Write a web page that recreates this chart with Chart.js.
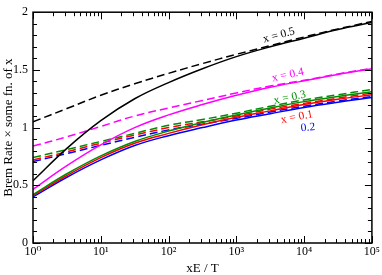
<!doctype html>
<html lang="en">
<head>
  <meta charset="utf-8">
  <title>brem rate</title>
  <style>
    body { margin: 0; background: #fff; }
    #chart { display: block; }
  </style>
</head>
<body>
  <canvas id="chart" width="382" height="275"></canvas>

  <script src="https://cdn.jsdelivr.net/npm/chart.js@4.4.1/dist/chart.umd.min.js"></script>
  <script>
  // xE / T sample points, half decades
  const xE = [1, 3.162, 10, 31.62, 100, 316.2, 1000, 3162, 10000, 31623, 100000];

  // x = 0.1
  const solid01  = [0.41, 0.585, 0.74, 0.865, 0.95, 1.025, 1.09, 1.145, 1.20, 1.245, 1.285];
  const dashed01 = [0.72, 0.79, 0.865, 0.935, 1.00, 1.05, 1.10, 1.16, 1.21, 1.255, 1.30];
  // x = 0.2
  const solid02  = [0.40, 0.57, 0.72, 0.845, 0.93, 1.00, 1.065, 1.12, 1.175, 1.22, 1.26];
  const dashed02 = [0.705, 0.775, 0.846, 0.915, 0.98, 1.03, 1.08, 1.135, 1.185, 1.23, 1.27];
  // x = 0.3
  const solid03  = [0.42, 0.60, 0.755, 0.88, 0.97, 1.045, 1.11, 1.17, 1.225, 1.27, 1.31];
  const dashed03 = [0.74, 0.81, 0.88, 0.95, 1.02, 1.07, 1.125, 1.185, 1.24, 1.285, 1.33];
  // x = 0.4
  const solid04  = [0.465, 0.67, 0.85, 1.00, 1.11, 1.20, 1.28, 1.35, 1.405, 1.46, 1.51];
  const dashed04 = [0.84, 0.92, 1.01, 1.10, 1.17, 1.235, 1.30, 1.36, 1.41, 1.465, 1.515];
  // x = 0.5
  const solid05  = [0.54, 0.82, 1.06, 1.25, 1.39, 1.51, 1.615, 1.70, 1.775, 1.85, 1.91];
  const dashed05 = [1.05, 1.165, 1.28, 1.38, 1.47, 1.555, 1.635, 1.71, 1.785, 1.855, 1.92];

  const yTicks = [0, 0.5, 1, 1.5, 2];
  const xTicks = [1, 10, 100, 1000, 10000, 100000];
  const xTickLabels = ['10\u2070', '10\u00b9', '10\u00b2', '10\u00b3', '10\u2074', '10\u2075'];

  // curve labels inside the plot
  const noteText = ['x = 0.5', 'x = 0.4', 'x = 0.3', 'x = 0.1', '0.2'];
  const noteX = [4250, 5750, 6150, 7830, 11400];
  const noteY = [1.80, 1.455, 1.26, 1.09, 1.0];

  const red = '#ff0000', blue = '#0000ff', green = '#008c00', magenta = '#ff00ff', black = '#000000';
  const noteColor = [black, magenta, green, red, blue];
  const noteAngle = [-15, -12, -12, -11, -5];

  const serif = "'Liberation Serif', 'DejaVu Serif', serif";

  function series(values, color, dashed) {
    return {
      data: xE.map((x, i) => ({x: x, y: values[i]})),
      borderColor: color,
      borderWidth: 1.5,
      borderDash: dashed ? [8, 4] : [],
      pointRadius: 0,
      showLine: true,
      fill: false,
      tension: 0.4
    };
  }

  const datasets = [
    series(solid05, black, false), series(dashed05, black, true),
    series(solid04, magenta, false), series(dashed04, magenta, true),
    series(solid03, green, false), series(dashed03, green, true),
    series(solid01, red, false), series(dashed01, red, true),
    series(solid02, blue, false), series(dashed02, blue, true)
  ];

  // frame with inward ticks on all four sides, like the original grace plot
  const frame = {
    id: 'frame',
    afterDatasetsDraw(chart) {
      const ctx = chart.ctx;
      const a = chart.chartArea;
      const xs = chart.scales.x, ys = chart.scales.y;
      ctx.save();
      ctx.strokeStyle = '#000';
      ctx.lineWidth = 1.5;
      ctx.strokeRect(a.left, a.top, a.right - a.left, a.bottom - a.top);
      ctx.lineWidth = 1;
      ctx.beginPath();
      for (let d = 0; d < 5; d++) {
        for (let k = 1; k <= 10; k++) {
          const v = k * Math.pow(10, d);
          const px = Math.round(xs.getPixelForValue(v)) + 0.5;
          const len = (k === 1 || k === 10) ? 7 : 4;
          ctx.moveTo(px, a.bottom); ctx.lineTo(px, a.bottom - len);
          ctx.moveTo(px, a.top); ctx.lineTo(px, a.top + len);
        }
      }
      for (let i = 0; i <= 20; i++) {
        const py = Math.round(ys.getPixelForValue(i / 10)) + 0.5;
        const len = (i % 5 === 0) ? 7 : 4;
        ctx.moveTo(a.left, py); ctx.lineTo(a.left + len, py);
        ctx.moveTo(a.right, py); ctx.lineTo(a.right - len, py);
      }
      ctx.stroke();

      ctx.font = '11.5px ' + serif;
      ctx.textAlign = 'center';
      ctx.textBaseline = 'middle';
      noteText.forEach((t, i) => {
        ctx.save();
        ctx.translate(xs.getPixelForValue(noteX[i]), ys.getPixelForValue(noteY[i]));
        ctx.rotate(noteAngle[i] * Math.PI / 180);
        ctx.fillStyle = noteColor[i];
        ctx.fillText(t, 0, 0);
        ctx.restore();
      });
      ctx.restore();
    }
  };

  new Chart(document.getElementById('chart'), {
    type: 'scatter',
    data: { datasets: datasets },
    options: {
      responsive: false,
      animation: false,
      layout: { padding: { top: 5, right: 10, left: 0, bottom: 0 } },
      plugins: { legend: { display: false }, tooltip: { enabled: false } },
      scales: {
        x: {
          type: 'logarithmic',
          min: 1,
          max: 100000,
          grid: { display: false, drawTicks: false },
          border: { display: false },
          afterFit: s => { s.height = 32; },
          ticks: {
            autoSkip: false,
            maxRotation: 0,
            padding: 2,
            color: '#000',
            font: { family: serif, size: 12 },
            callback: v => {
              const i = xTicks.indexOf(v);
              return i < 0 ? '' : xTickLabels[i];
            }
          },
          title: {
            display: true,
            text: 'xE / T',
            color: '#000',
            font: { family: serif, size: 13, lineHeight: 1 },
            padding: { top: 0, bottom: 0 }
          }
        },
        y: {
          min: 0,
          max: 2,
          grid: { display: false, drawTicks: false },
          border: { display: false },
          afterFit: s => { s.width = 33; },
          afterBuildTicks: s => { s.ticks = yTicks.map(v => ({value: v})); },
          ticks: {
            padding: 5,
            color: '#000',
            font: { family: serif, size: 12 },
            callback: v => String(v)
          },
          title: {
            display: true,
            text: 'Brem Rate \u00d7 some fn. of x',
            color: '#000',
            font: { family: serif, size: 13, lineHeight: 1 },
            padding: { top: 2, bottom: 0 }
          }
        }
      }
    },
    plugins: [frame]
  });
  </script>
</body>
</html>
